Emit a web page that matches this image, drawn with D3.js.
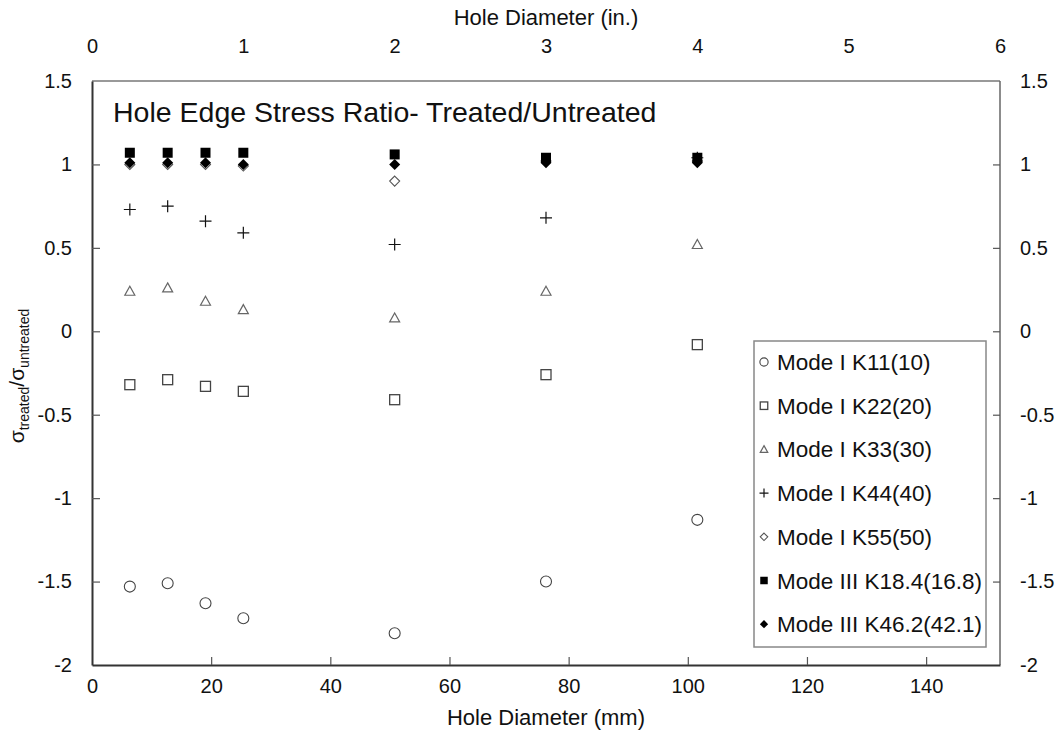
<!DOCTYPE html>
<html>
<head>
<meta charset="utf-8">
<script src="https://cdn.jsdelivr.net/npm/d3@7"></script>
<style>
  html, body { margin: 0; padding: 0; background: #fff; }
  svg { display: block; font-family: "Liberation Sans", Arial, sans-serif; }
</style>
</head>
<body>
<svg id="chart" width="1061" height="734"></svg>
<script>
// ---- data ----
const holeDiameterMm = [6.35, 12.7, 19.05, 25.4, 50.8, 76.2, 101.6];
const modeI_K11 = [-1.53, -1.51, -1.63, -1.72, -1.81, -1.50, -1.13];
const modeI_K22 = [-0.32, -0.29, -0.33, -0.36, -0.41, -0.26, -0.08];
const modeI_K33 = [0.24, 0.26, 0.18, 0.13, 0.08, 0.24, 0.52];
const modeI_K44 = [0.73, 0.75, 0.66, 0.59, 0.52, 0.68, 1.04];
const modeI_K55 = [1.00, 1.00, 1.00, 0.99, 0.90, 1.02, 1.02];
const modeIII_K18_4 = [1.07, 1.07, 1.07, 1.07, 1.06, 1.04, 1.04];
const modeIII_K46_2 = [1.01, 1.01, 1.01, 1.00, 1.00, 1.01, 1.01];
const seriesNames = ["Mode I K11(10)", "Mode I K22(20)", "Mode I K33(30)", "Mode I K44(40)",
                     "Mode I K55(50)", "Mode III K18.4(16.8)", "Mode III K46.2(42.1)"];
const bottomTicks = [0, 20, 40, 60, 80, 100, 120, 140];
const topTicks = [0, 1, 2, 3, 4, 5, 6];
const yTicks = [1.5, 1, 0.5, 0, -0.5, -1, -1.5, -2];
const titleText = "Hole Edge Stress Ratio- Treated/Untreated";

const seriesValues = [modeI_K11, modeI_K22, modeI_K33, modeI_K44, modeI_K55, modeIII_K18_4, modeIII_K46_2];
const seriesSymbols = ["circle", "square", "triangle", "plus", "diamondOpen", "squareFilled", "diamondFilled"];

// ---- layout ----
const svg = d3.select("#chart");
const L = 92, R = 1000, T = 81, B = 665;
const x = d3.scaleLinear().domain([0, 6 * 25.4]).range([L, R]);
const xIn = d3.scaleLinear().domain([0, 6]).range([L, R]);
const y = d3.scaleLinear().domain([-2, 1.5]).range([B, T]);
const plainFmt = d => String(d);

function drawSymbol(g, type, cx, cy, s) {
  if (type === "circle") {
    g.append("circle").attr("cx", cx).attr("cy", cy).attr("r", 5.5 * s)
      .attr("fill", "none").attr("stroke", "#444").attr("stroke-width", 1.1);
  } else if (type === "square") {
    const h = 5 * s;
    g.append("rect").attr("x", cx - h).attr("y", cy - h).attr("width", 2 * h).attr("height", 2 * h)
      .attr("fill", "none").attr("stroke", "#444").attr("stroke-width", 1.3);
  } else if (type === "triangle") {
    const h = 5 * s;
    g.append("path").attr("d", `M${cx},${cy - h}L${cx + h},${cy + h * 0.8}L${cx - h},${cy + h * 0.8}Z`)
      .attr("fill", "none").attr("stroke", "#666").attr("stroke-width", 1.2);
  } else if (type === "plus") {
    const h = 6 * s;
    g.append("path").attr("d", `M${cx - h},${cy}H${cx + h}M${cx},${cy - h}V${cy + h}`)
      .attr("fill", "none").attr("stroke", "#111").attr("stroke-width", 1.2);
  } else if (type === "diamondOpen") {
    const h = 5 * s;
    g.append("path").attr("d", `M${cx},${cy - h}L${cx + h},${cy}L${cx},${cy + h}L${cx - h},${cy}Z`)
      .attr("fill", "#fff").attr("stroke", "#555").attr("stroke-width", 1.1);
  } else if (type === "squareFilled") {
    const h = 5 * s;
    g.append("rect").attr("x", cx - h).attr("y", cy - h).attr("width", 2 * h).attr("height", 2 * h)
      .attr("fill", "#000");
  } else if (type === "diamondFilled") {
    const h = 5.5 * s;
    g.append("path").attr("d", `M${cx},${cy - h}L${cx + h},${cy}L${cx},${cy + h}L${cx - h},${cy}Z`)
      .attr("fill", "#000");
  }
}

// ---- frame: top and right grey, left and bottom dark ----
svg.append("line").attr("x1", L).attr("x2", R).attr("y1", T).attr("y2", T).attr("stroke", "#777").attr("stroke-width", 1.5);
svg.append("line").attr("x1", R).attr("x2", R).attr("y1", T).attr("y2", B).attr("stroke", "#666").attr("stroke-width", 1.5);

// ---- axes ----
const fontTick = 20;
const axB = svg.append("g").attr("transform", `translate(0,${B})`)
  .call(d3.axisBottom(x).tickValues(bottomTicks).tickSize(-8).tickPadding(14).tickSizeOuter(0).tickFormat(plainFmt));
const axT = svg.append("g").attr("transform", `translate(0,${T})`)
  .call(d3.axisTop(xIn).tickValues(topTicks).tickSize(0).tickPadding(28).tickSizeOuter(0).tickFormat(plainFmt));
const axL = svg.append("g").attr("transform", `translate(${L},0)`)
  .call(d3.axisLeft(y).tickValues(yTicks).tickSize(-8).tickPadding(20).tickSizeOuter(0).tickFormat(plainFmt));
const axR = svg.append("g").attr("transform", `translate(${R},0)`)
  .call(d3.axisRight(y).tickValues(yTicks).tickSize(-7).tickPadding(20).tickSizeOuter(0).tickFormat(plainFmt));

[axB, axT, axL, axR].forEach(a => {
  a.selectAll("text").attr("font-size", fontTick).attr("fill", "#111")
    .attr("font-family", "'Liberation Sans', Arial, sans-serif");
  a.selectAll(".tick line").attr("stroke", "#555").attr("stroke-width", 1.2);
});
axB.select(".domain").attr("stroke", "#333").attr("stroke-width", 2.2);
axL.select(".domain").attr("stroke", "#333").attr("stroke-width", 2);
axT.select(".domain").remove();
axR.select(".domain").remove();
axB.selectAll(".tick line").filter(d => d === 0).remove();
axL.selectAll(".tick line").filter(d => d === 1.5 || d === -2).remove();
axR.selectAll(".tick line").filter(d => d === 1.5 || d === -2).remove();

// ---- axis titles ----
svg.append("text").attr("x", (L + R) / 2).attr("y", 725).attr("text-anchor", "middle")
  .attr("font-size", 22).attr("fill", "#111").text("Hole Diameter (mm)");
svg.append("text").attr("x", (L + R) / 2).attr("y", 25).attr("text-anchor", "middle")
  .attr("font-size", 22).attr("fill", "#111").text("Hole Diameter (in.)");

const yl = svg.append("text").attr("transform", "translate(24,376) rotate(-90)")
  .attr("text-anchor", "middle").attr("fill", "#111").attr("font-size", 21);
yl.append("tspan").text("σ");
yl.append("tspan").attr("font-size", 14).attr("dy", 5).text("treated");
yl.append("tspan").attr("dy", -5).text("/σ");
yl.append("tspan").attr("font-size", 14).attr("dy", 5).text("untreated");

// ---- title ----
svg.append("text").attr("x", 113).attr("y", 122).attr("font-size", 28.5).attr("fill", "#111").text(titleText);

// ---- data points ----
const plot = svg.append("g");
seriesValues.forEach((vals, i) => {
  const g = plot.append("g").attr("class", "series");
  vals.forEach((v, j) => drawSymbol(g, seriesSymbols[i], x(holeDiameterMm[j]), y(v), 1));
});

// ---- legend ----
const lg = svg.append("g");
lg.append("rect").attr("x", 754).attr("y", 341).attr("width", 232).attr("height", 306)
  .attr("fill", "#fff").attr("stroke", "#888").attr("stroke-width", 1.5);
seriesNames.forEach((name, i) => {
  const cy = 362 + i * 43.7;
  drawSymbol(lg, seriesSymbols[i], 764, cy, 0.75);
  lg.append("text").attr("x", 777).attr("y", cy + 8).attr("font-size", 22.5).attr("fill", "#111").text(name);
});
</script>
</body>
</html>
